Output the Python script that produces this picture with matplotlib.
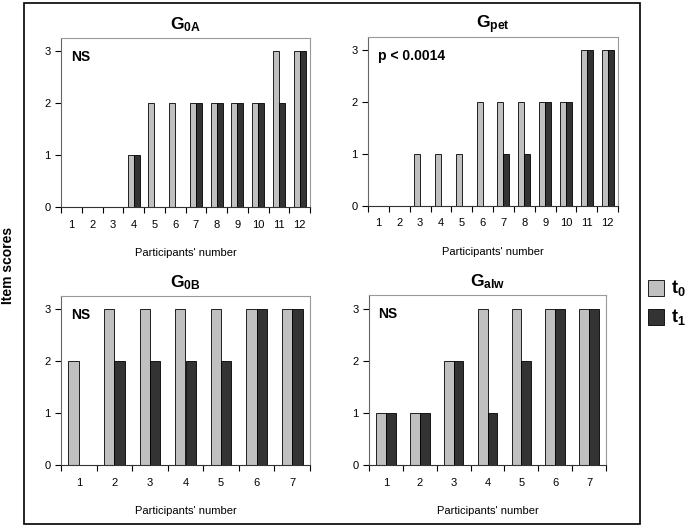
import numpy as np
import matplotlib
matplotlib.use('Agg')
import matplotlib.pyplot as plt
from matplotlib.patches import Rectangle

plt.rcParams['font.family'] = ['Liberation Sans', 'DejaVu Sans']
plt.rcParams['mathtext.fontset'] = 'custom'
plt.rcParams['mathtext.rm'] = 'Liberation Sans'
plt.rcParams['mathtext.bf'] = 'Liberation Sans:bold'
plt.rcParams['mathtext.it'] = 'Liberation Sans:italic'

# data
part_12 = list(range(1, 13))
part_7 = list(range(1, 8))

g0a_t0 = [0, 0, 0, 1, 2, 2, 2, 2, 2, 2, 3, 3]
g0a_t1 = [0, 0, 0, 1, 0, 0, 2, 2, 2, 2, 2, 3]
gpet_t0 = [0, 0, 1, 1, 1, 2, 2, 2, 2, 2, 3, 3]
gpet_t1 = [0, 0, 0, 0, 0, 0, 1, 1, 2, 2, 3, 3]
g0b_t0 = [2, 3, 3, 3, 3, 3, 3]
g0b_t1 = [0, 2, 2, 2, 2, 3, 3]
galw_t0 = [1, 1, 2, 3, 3, 3, 3]
galw_t1 = [1, 1, 2, 1, 2, 3, 3]

titles = [r'$\mathbf{G_{0A}}$', r'$\mathbf{G_{pet}}$', r'$\mathbf{G_{0B}}$', r'$\mathbf{G_{alw}}$']
notes = ['NS', 'p < 0.0014', 'NS', 'NS']

c_t0 = '#c0c0c0'
c_t1 = '#333333'

W, H = 697, 531
fig = plt.figure(figsize=(W / 100, H / 100), dpi=100)

def rect(x0, y_top, x1, y_bot):
    return [x0 / W, 1 - y_bot / H, (x1 - x0) / W, (y_bot - y_top) / H]

# outer frame
fig.patches.append(Rectangle((24 / W, 1 - 524 / H), (640 - 24) / W, (524 - 3) / H,
                             transform=fig.transFigure, fill=False, lw=1.2, ec='black'))

panels = [
    (rect(61, 38, 310, 207), part_12, g0a_t0, g0a_t1),
    (rect(368, 37, 618, 206), part_12, gpet_t0, gpet_t1),
    (rect(61, 296, 310, 465), part_7, g0b_t0, g0b_t1),
    (rect(369, 295, 606, 465), part_7, galw_t0, galw_t1),
]

bw = 0.29
for i, (pos, parts, t0, t1) in enumerate(panels):
    ax = fig.add_axes(pos)
    x = np.arange(len(parts))
    ax.bar(x - bw / 2, t0, bw, color=c_t0, edgecolor='black', linewidth=0.6)
    ax.bar(x + bw / 2, t1, bw, color=c_t1, edgecolor='black', linewidth=0.6)
    ax.set_xlim(-0.5, len(parts) - 0.5)
    ax.set_ylim(0, 3.26)
    ax.set_yticks([0, 1, 2, 3])
    ax.set_xticks(x)
    ax.set_xticklabels([str(p) for p in parts])
    ax.set_xticks(np.arange(len(parts) + 1) - 0.5, minor=True)
    ax.tick_params(axis='x', which='major', length=0, labelsize=8, pad=9)
    ax.tick_params(axis='x', which='minor', length=4, width=0.8, direction='out')
    ax.tick_params(axis='y', length=4, width=0.8, labelsize=8)
    for s in ['top', 'right']:
        ax.spines[s].set_color('#999999')
        ax.spines[s].set_linewidth(0.8)
    ax.spines['left'].set_color('#666666')
    ax.spines['bottom'].set_color('#333333')
    ax.set_title(titles[i], fontsize=12.5, pad=6)
    ax.set_xlabel("Participants' number", fontsize=8, labelpad=13)
    ax.text(0.04, 0.93, notes[i], transform=ax.transAxes, fontsize=10,
            fontweight='bold', va='top', ha='left')

fig.text(8 / W, 1 - 265 / H, 'Item scores', rotation=90, fontsize=10,
         fontweight='bold', ha='center', va='center')

# legend
fig.patches.append(Rectangle((648 / W, 1 - 296 / H), 16 / W, 16 / H,
                             transform=fig.transFigure, fc=c_t0, ec='black', lw=0.6))
fig.patches.append(Rectangle((648 / W, 1 - 325 / H), 16 / W, 16 / H,
                             transform=fig.transFigure, fc=c_t1, ec='black', lw=0.6))
fig.text(671 / W, 1 - 288 / H, r'$\mathbf{t_0}$', fontsize=13, va='center')
fig.text(671 / W, 1 - 317 / H, r'$\mathbf{t_1}$', fontsize=13, va='center')

fig.savefig('out.png', dpi=100)
